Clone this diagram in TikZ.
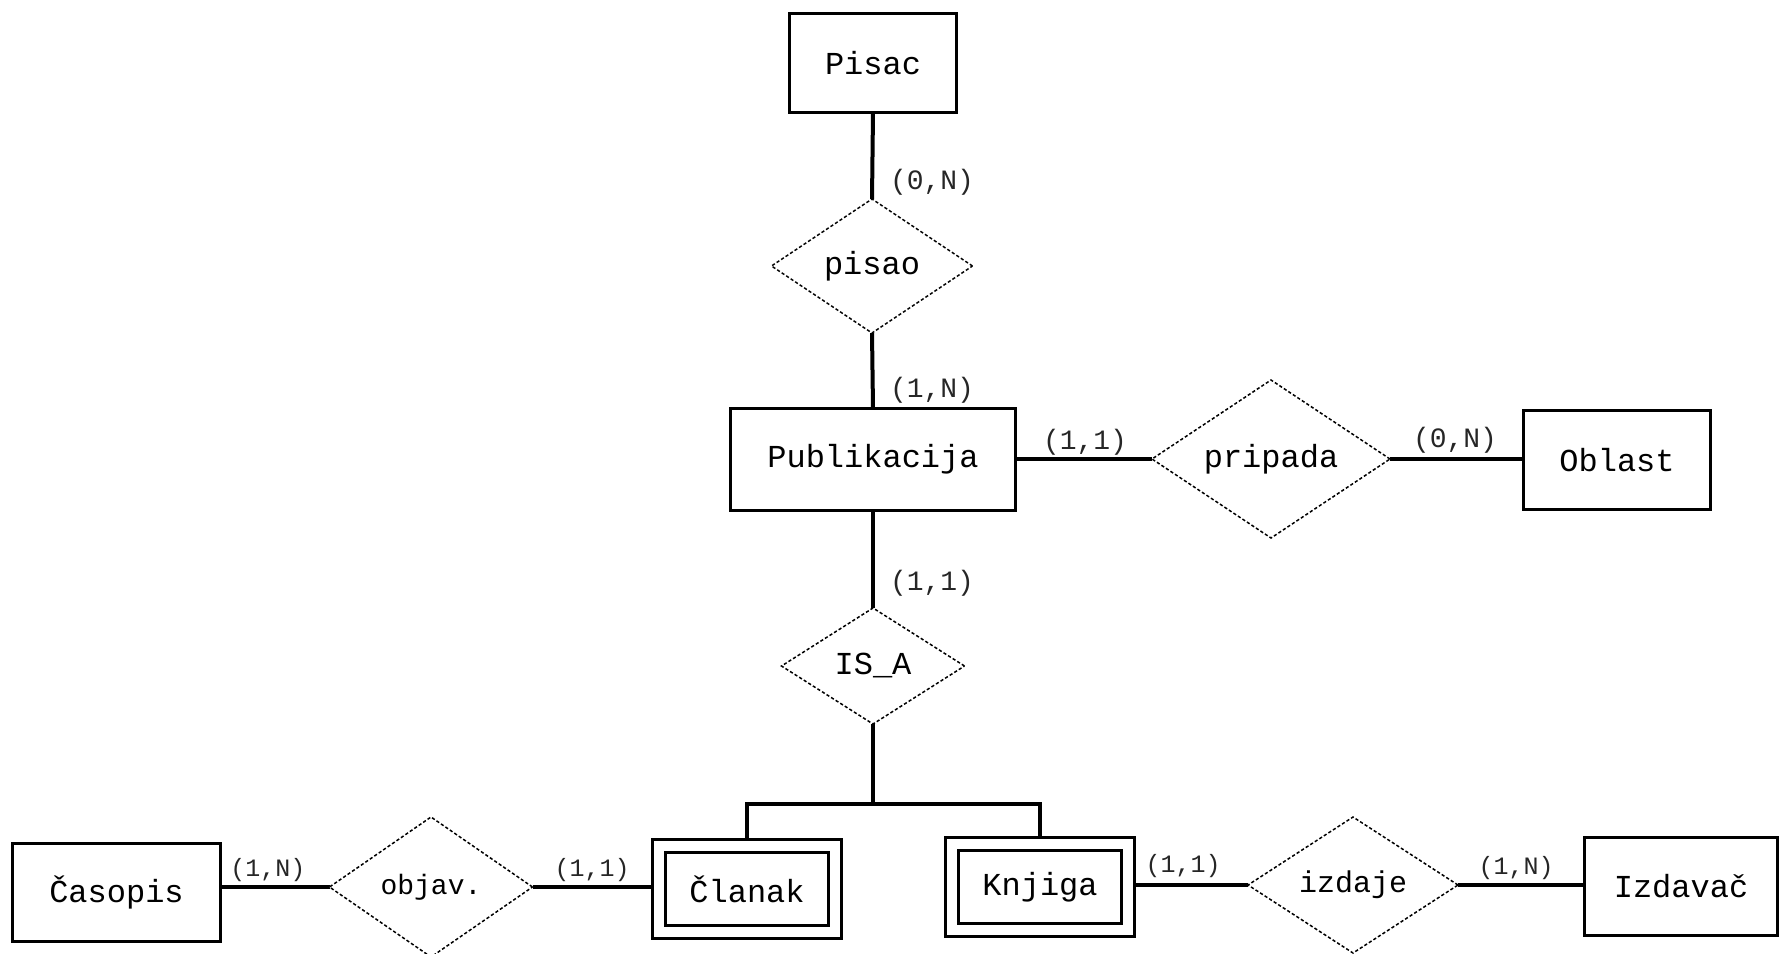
\documentclass[tikz,border=0pt]{standalone}
\usepackage{fontspec}
\newfontfamily\erfont{Liberation Mono}
\usetikzlibrary{shapes.geometric,backgrounds}
\begin{document}
\begin{tikzpicture}[x=0.5pt,y=-0.5pt,
  entity/.style={draw, line width=1.5pt, fill=white, inner sep=0pt, outer sep=0pt,
    font=\erfont\fontsize{16}{19}\selectfont},
  weak/.style={entity, double=white, double distance=5pt},
  rel/.style={diamond, draw, line width=0.75pt, dash pattern=on 1.6pt off 1.1pt,
    fill=white, inner sep=0pt, outer sep=0pt, aspect=2,
    font=\erfont\fontsize{16}{19}\selectfont},
  conn/.style={line width=2pt},
  card/.style={inner sep=0pt, text=black!85, font=\erfont\fontsize{14}{16}\selectfont},
  cardsm/.style={card, font=\erfont\fontsize{12.5}{15}\selectfont}]
\useasboundingbox (0,0) rectangle (1782,953);

% entities and relationships
\node[entity, minimum width=83.5pt, minimum height=49.5pt] (pisac) at (873,63) {Pisac};
\node[rel, minimum width=100.5pt, minimum height=67pt] (pisao) at (872,266) {pisao};
\node[entity, minimum width=142.5pt, minimum height=51pt] (pub) at (873,459.5) {Publikacija};
\node[rel, minimum width=119pt, minimum height=79pt] (pripada) at (1271,459) {pripada};
\node[entity, minimum width=93.5pt, minimum height=49.5pt] (oblast) at (1617,460) {Oblast};
\node[rel, minimum width=91.5pt, minimum height=58pt] (isa) at (873,666) {IS\_A};
\node[entity, minimum width=104pt, minimum height=49pt] (casopis) at (116.5,892.5) {Časopis};
\node[rel, minimum width=101.5pt, minimum height=70pt, font=\erfont\fontsize{14}{16}\selectfont] (objav) at (431,887) {objav.};
\node[weak, minimum width=88pt, minimum height=43pt] (clanak) at (747,889) {Članak};
\node[weak, minimum width=88pt, minimum height=43pt] (knjiga) at (1040,887) {Knjiga};
\node[rel, minimum width=105pt, minimum height=68pt, font=\erfont\fontsize{15}{18}\selectfont] (izdaje) at (1353,885) {izdaje};
\node[entity, minimum width=96.5pt, minimum height=49pt] (izdavac) at (1681,886.5) {Izdavač};

\coordinate (bar) at (873,804);

% background and connectors
\begin{scope}[on background layer]
\fill[white] (0,0) rectangle (1782,953);
\draw[conn] (pisac.south) -- (pisao.north);
\draw[conn] (pisao.south) -- (pub.north);
\draw[conn] (pub.south) -- (isa.north);
\draw[conn] (pripada.west) -- (pripada.west -| pub.east);
\draw[conn] (pripada.east) -- (pripada.east -| oblast.west);
\draw[conn] (isa.south) -- (bar);
\draw[conn] (clanak.north) |- (bar) -| (knjiga.north);
\draw[conn] (objav.west) -- (objav.west -| casopis.east);
\draw[conn] (objav.east) -- (objav.east -| clanak.west);
\draw[conn] (izdaje.west) -- (izdaje.west -| knjiga.east);
\draw[conn] (izdaje.east) -- (izdaje.east -| izdavac.west);
\end{scope}

% cardinalities
\node[card] (c1) at (932,182) {(0,N)};
\node[card] (c2) at (932,390) {(1,N)};
\node[card] (c3) at (1085,442) {(1,1)};
\node[card] (c4) at (1455,440) {(0,N)};
\node[card] (c5) at (932,583) {(1,1)};
\node[cardsm] (c6) at (268,870) {(1,N)};
\node[cardsm] (c7) at (592,870) {(1,1)};
\node[cardsm] (c8) at (1183,866) {(1,1)};
\node[cardsm] (c9) at (1516,868) {(1,N)};
\end{tikzpicture}
\end{document}
